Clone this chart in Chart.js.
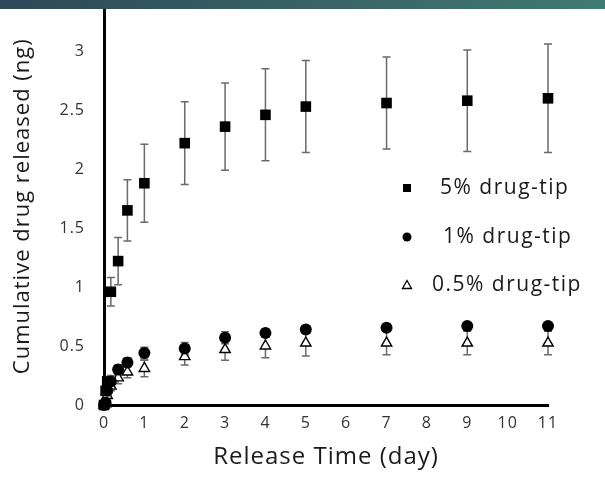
<!DOCTYPE html>
<html>
<head>
<meta charset="utf-8">
<script src="https://cdn.jsdelivr.net/npm/chart.js@4"></script>
<style>
  body { margin: 0; background: #fff; }
  #wrap { position: relative; width: 605px; height: 478px; }
  #band { position: absolute; left: 0; top: 0; width: 605px; height: 9px;
          background: linear-gradient(to right, #2d4858, #3a6468 55%, #3f7a70); }
</style>
</head>
<body>
<div id="wrap">
  <canvas id="chart" width="605" height="478"></canvas>
  <div id="band"></div>
</div>
<script>
// --- data ---
const times = [0, 0.04, 0.08, 0.17, 0.35, 0.58, 1, 2, 3, 4, 5, 7, 9, 11];

const tip5 = [0, 0.12, 0.2, 0.96, 1.22, 1.65, 1.88, 2.22, 2.36, 2.46, 2.53, 2.56, 2.58, 2.60];
const tip5Err = [0, 0.02, 0.03, 0.12, 0.2, 0.26, 0.33, 0.35, 0.37, 0.39, 0.39, 0.39, 0.43, 0.46];

const tip1 = [0, 0.02, 0.12, 0.2, 0.3, 0.36, 0.44, 0.48, 0.57, 0.61, 0.64, 0.655, 0.67, 0.67];
const tip1Err = [0, 0.01, 0.02, 0.05, 0.04, 0.04, 0.05, 0.05, 0.05, 0.03, 0.03, 0.03, 0.02, 0.02];

const tip05 = [0, 0.01, 0.08, 0.16, 0.23, 0.28, 0.31, 0.41, 0.47, 0.50, 0.525, 0.525, 0.525, 0.525];
const tip05Err = [0, 0, 0.02, 0.04, 0.05, 0.05, 0.07, 0.07, 0.09, 0.1, 0.11, 0.1, 0.1, 0.1];

const seriesLabels = ['5% drug-tip', '1% drug-tip', '0.5% drug-tip'];
const xTicks = [0, 1, 2, 3, 4, 5, 6, 7, 8, 9, 10, 11];

const FONT = "'Open Sans', 'Noto Sans', sans-serif";

const toPoints = (ys, errs) => ys.map((y, i) => ({ x: times[i], y: y, err: errs[i] }));

// the original lettering is set a little wider than Open Sans
const wideText = {
    id: 'wideText',
    beforeDraw(chart) { chart.ctx.letterSpacing = '1px'; }
};

// error bars drawn under the markers
const errorBars = {
    id: 'errorBars',
    beforeDatasetsDraw(chart) {
        const ctx = chart.ctx;
        const xs = chart.scales.x, ys = chart.scales.y;
        ctx.save();
        ctx.strokeStyle = '#6a6a6a';
        ctx.lineWidth = 1.5;
        chart.data.datasets.forEach(ds => {
            ds.data.forEach(p => {
                if (!p.err) return;
                const px = xs.getPixelForValue(p.x);
                const top = ys.getPixelForValue(p.y + p.err);
                const bot = ys.getPixelForValue(p.y - p.err);
                ctx.beginPath();
                ctx.moveTo(px, top); ctx.lineTo(px, bot);
                ctx.moveTo(px - 4, top); ctx.lineTo(px + 4, top);
                ctx.moveTo(px - 4, bot); ctx.lineTo(px + 4, bot);
                ctx.stroke();
            });
        });
        ctx.restore();
    }
};

// legend sitting inside the plot, right side
const insideLegend = {
    id: 'insideLegend',
    afterDraw(chart) {
        const ctx = chart.ctx;
        const rows = [
            { y: 188, tx: 440 },
            { y: 237, tx: 443 },
            { y: 285, tx: 432 }
        ];
        ctx.save();
        ctx.font = '21px ' + FONT;
        ctx.letterSpacing = '1.5px';
        ctx.textBaseline = 'middle';
        rows.forEach((r, i) => {
            const mx = 407;
            ctx.fillStyle = '#000';
            ctx.strokeStyle = '#000';
            if (i === 0) ctx.fillRect(mx - 4, r.y - 4, 8, 8);
            else if (i === 1) { ctx.beginPath(); ctx.arc(mx, r.y, 4.5, 0, Math.PI * 2); ctx.fill(); }
            else {
                ctx.lineWidth = 1.3;
                ctx.beginPath();
                ctx.moveTo(mx, r.y - 4.5); ctx.lineTo(mx + 4.5, r.y + 3.5); ctx.lineTo(mx - 4.5, r.y + 3.5);
                ctx.closePath(); ctx.stroke();
            }
            ctx.fillStyle = '#1a1a1a';
            ctx.fillText(seriesLabels[i], r.tx, r.y);
        });
        ctx.restore();
    }
};

new Chart(document.getElementById('chart'), {
    type: 'scatter',
    data: {
        datasets: [
            { label: seriesLabels[0], data: toPoints(tip5, tip5Err), pointStyle: 'rect', pointRadius: 7.5,
              backgroundColor: '#000', borderColor: '#000', borderWidth: 0, clip: false },
            { label: seriesLabels[1], data: toPoints(tip1, tip1Err), pointStyle: 'circle', pointRadius: 6,
              backgroundColor: '#000', borderColor: '#000', borderWidth: 0, clip: false },
            { label: seriesLabels[2], data: toPoints(tip05, tip05Err), pointStyle: 'triangle', pointRadius: 6,
              backgroundColor: '#fff', borderColor: '#000', borderWidth: 1.4, clip: false }
        ]
    },
    options: {
        responsive: false,
        animation: false,
        layout: { padding: { top: 0, right: 57, bottom: 0, left: 0 } },
        plugins: { legend: { display: false }, tooltip: { enabled: false } },
        scales: {
            x: {
                type: 'linear', min: 0, max: 11,
                afterFit: s => { s.height = 73; s.paddingLeft = 0; s.paddingRight = 0; },
                afterBuildTicks: s => { s.ticks = xTicks.map(v => ({ value: v })); },
                grid: { display: false },
                border: { color: '#000', width: 3 },
                ticks: { color: '#333', font: { family: FONT, size: 16 }, padding: 1, maxRotation: 0 },
                title: { display: true, text: 'Release Time (day)', color: '#1a1a1a',
                         font: { family: FONT, size: 24 }, padding: { top: 0, bottom: 6 } }
            },
            y: {
                min: 0, max: 3.37,
                afterFit: s => { s.width = 104; s.paddingTop = 0; s.paddingBottom = 0; },
                grid: { display: false },
                border: { color: '#000', width: 3 },
                ticks: { stepSize: 0.5, includeBounds: false, color: '#333',
                         font: { family: FONT, size: 16 }, padding: 11,
                         callback: v => String(v) },
                title: { display: true, text: 'Cumulative drug released (ng)', color: '#1a1a1a',
                         font: { family: FONT, size: 22 }, padding: { top: 10, bottom: 0 } }
            }
        }
    },
    plugins: [wideText, errorBars, insideLegend]
});
</script>
</body>
</html>
